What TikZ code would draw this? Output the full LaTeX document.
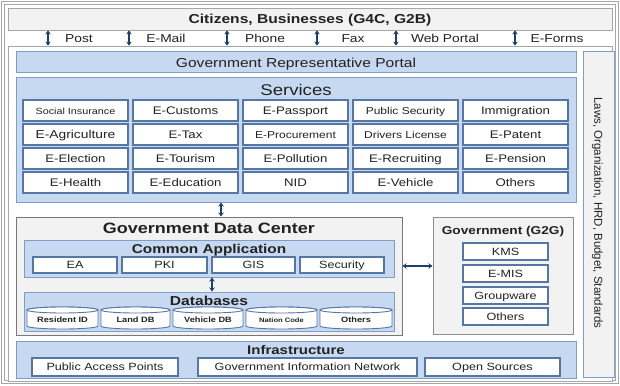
\documentclass[tikz,border=0pt]{standalone}
\usepackage{fontspec}
\setmainfont{Liberation Sans}[FakeStretch=1.2]
\newfontfamily\vfont{Liberation Sans}
\usetikzlibrary{arrows.meta}
\definecolor{bfill}{HTML}{C6D9F0}
\definecolor{bdraw}{HTML}{7F9DC6}
\definecolor{cdraw}{HTML}{5676A3}
\definecolor{gfill}{HTML}{F2F2F2}
\definecolor{gdraw}{HTML}{8C8C8C}
\definecolor{arrc}{HTML}{1F3F6B}
\definecolor{tcol}{HTML}{222222}
\definecolor{framec}{HTML}{A6A6A6}
\newcommand\myfs[1]{\fontsize{#1pt}{#1pt}\selectfont}
\newcommand\rbox[7]{\pgfmathsetmacro\rbW{#5-#3}\pgfmathsetmacro\rbH{#6-#4}%
 \node[#1,minimum width=\rbW pt,minimum height=\rbH pt] (#2) at ({(#3+#5)/2},{(#4+#6)/2}) {#7};}
\newcommand\dbcyl[6]{\pgfmathsetmacro\cyX{(#2+#3)/2}\pgfmathsetmacro\cyR{(#3-#2)/2}%
 \filldraw[cyl] (#2,#4+3) -- (#2,#5-3) arc[start angle=180,end angle=0,x radius=\cyR,y radius=3] -- (#3,#4+3) arc[start angle=0,end angle=-180,x radius=\cyR,y radius=3] -- cycle;
 \draw[cyl] (\cyX,#4+3) ellipse[x radius=\cyR,y radius=3];
 \node[lab,text height=5.4pt] (#1) at (\cyX,{(#4+#5)/2+2}) {#6};}
\begin{document}
\begin{tikzpicture}[x=1pt,y=-1pt,
 every node/.style={text=tcol},
 bluebox/.style={draw=bdraw,fill=bfill,line width=1pt,inner sep=0pt},
 graybox/.style={draw=gdraw,fill=gfill,line width=1pt,inner sep=0pt},
 cell/.style={draw=cdraw,fill=white,line width=1.1pt,inner sep=0pt,font=\myfs{11},text height=7.6pt,text depth=0pt},
 lab/.style={inner sep=0pt,text depth=0pt},
 arr/.style={draw=arrc,line width=1.5pt,{Stealth[length=4pt,width=5.5pt]}-{Stealth[length=4pt,width=5.5pt]}},
 cyl/.style={draw=cdraw,fill=white,line width=0.9pt}]
\useasboundingbox (0,0) rectangle (620,385);
\draw[framec,line width=0.9pt,double=white,double distance=1.6pt] (3,3) rectangle (617,382);
\rbox{draw=framec,fill=white,line width=0.8pt,inner sep=0pt}{main}{8}{46}{612}{381}{}
\rbox{draw=framec,fill=gfill,line width=0.8pt,inner sep=0pt,font=\bfseries\myfs{13},text height=9.3pt,text depth=0pt}{top}{8}{8}{612}{30}{Citizens, Businesses (G4C, G2B)}
% menu row
\foreach \n/\x in {a/48,b/129,c/227,d/317,e/396,f/515}{
 \coordinate (m\n) at (\x,38);
 \draw[arr] (top.south -| m\n) -- (main.north -| m\n);
}
\tikzset{menu/.style={lab,font=\myfs{11.5},text height=8.2pt}}
\node[menu] (tpost) at (79,38.5) {Post};
\node[menu] (tmail) at (166,38.5) {E-Mail};
\node[menu] (tphone) at (265,38.5) {Phone};
\node[menu] (tfax) at (353,38.5) {Fax};
\node[menu] (tweb) at (445,38.5) {Web Portal};
\node[menu] (tforms) at (557,38.5) {E-Forms};
% portal
\rbox{bluebox,font=\myfs{13},text height=9.3pt,text depth=0pt}{portal}{16}{52}{576}{73}{Government Representative Portal}
% laws
\rbox{draw=bdraw,fill=gfill,line width=1pt,inner sep=0pt}{laws}{583}{52}{614}{377}{}
\node[lab,rotate=-90,font=\vfont\myfs{11.5},text height=8.2pt] (lawtxt) at (598.5,213) {Laws, Organization, HRD, Budget, Standards};
% services
\rbox{bluebox}{svc}{16}{78}{576}{202}{}
\node[lab,font=\myfs{15.5},text height=11.1pt] (svct) at (296,89.5) {Services};
\rbox{cell,font=\myfs{9}}{s11}{23}{100}{128}{121}{Social Insurance}
\rbox{cell}{s12}{133}{100}{238}{121}{E-Customs}
\rbox{cell}{s13}{243}{100}{348}{121}{E-Passport}
\rbox{cell,font=\myfs{10}}{s14}{353}{100}{458}{121}{Public Security}
\rbox{cell}{s15}{463}{100}{568}{121}{Immigration}
\rbox{cell,font=\myfs{11.5}}{s21}{23}{124}{128}{145}{E-Agriculture}
\rbox{cell}{s22}{133}{124}{238}{145}{E-Tax}
\rbox{cell,font=\myfs{10}}{s23}{243}{124}{348}{145}{E-Procurement}
\rbox{cell,font=\myfs{10}}{s24}{353}{124}{458}{145}{Drivers License}
\rbox{cell}{s25}{463}{124}{568}{145}{E-Patent}
\rbox{cell}{s31}{23}{148}{128}{169}{E-Election}
\rbox{cell}{s32}{133}{148}{238}{169}{E-Tourism}
\rbox{cell}{s33}{243}{148}{348}{169}{E-Pollution}
\rbox{cell}{s34}{353}{148}{458}{169}{E-Recruiting}
\rbox{cell}{s35}{463}{148}{568}{169}{E-Pension}
\rbox{cell}{s41}{23}{172}{128}{193}{E-Health}
\rbox{cell}{s42}{133}{172}{238}{193}{E-Education}
\rbox{cell}{s43}{243}{172}{348}{193}{NID}
\rbox{cell}{s44}{353}{172}{458}{193}{E-Vehicle}
\rbox{cell}{s45}{463}{172}{568}{193}{Others}
% data center
\rbox{graybox,draw=gdraw!85!black}{dc}{16}{217}{402}{335}{}
\node[lab,font=\bfseries\myfs{15},text height=10.7pt] (dct) at (209,228.5) {Government Data Center};
\rbox{bluebox}{ca}{24}{240}{394}{277}{}
\node[lab,font=\bfseries\myfs{12.8},text height=9.2pt] (cat) at (209,248.5) {Common Application};
\rbox{cell,font=\myfs{10.5}}{ea}{33}{257}{117}{273}{EA}
\rbox{cell,font=\myfs{10.5}}{pki}{122}{257}{207}{273}{PKI}
\rbox{cell,font=\myfs{10.5}}{gis}{212}{257}{295}{273}{GIS}
\rbox{cell,font=\myfs{10.5}}{sec}{300}{257}{384}{273}{Security}
\rbox{bluebox}{db}{24}{292}{394}{331}{}
\node[lab,font=\bfseries\myfs{13},text height=9.3pt] (dbt) at (209,301) {Databases};
\dbcyl{c1}{27}{98}{307}{329}{\bfseries\myfs{7.7}Resident ID}
\dbcyl{c2}{101}{170}{307}{329}{\bfseries\myfs{7.7}Land DB}
\dbcyl{c3}{173}{243}{307}{329}{\bfseries\myfs{7.7}Vehicle DB}
\dbcyl{c4}{246}{317}{307}{329}{\bfseries\myfs{6.3}Nation Code}
\dbcyl{c5}{320}{392}{307}{329}{\bfseries\myfs{7.7}Others}
% G2G
\rbox{graybox}{g2g}{433}{217}{573}{334}{}
\node[lab,font=\bfseries\myfs{11.4},text height=8.2pt] (g2gt) at (503,230) {Government (G2G)};
\rbox{cell,font=\myfs{10.5}}{kms}{463}{243}{548}{260}{KMS}
\rbox{cell,font=\myfs{10.5}}{emis}{463}{265}{548}{282}{E-MIS}
\rbox{cell,font=\myfs{10.5}}{grp}{463}{287}{548}{304}{Groupware}
\rbox{cell,font=\myfs{10.5}}{goth}{463}{308}{548}{325}{Others}
% infrastructure
\rbox{bluebox}{inf}{16}{341}{576}{378}{}
\node[lab,font=\bfseries\myfs{12.5},text height=9pt] (inft) at (296,349.5) {Infrastructure};
\rbox{cell,font=\myfs{10.5}}{pap}{32}{358}{178}{376}{Public Access Points}
\rbox{cell,font=\myfs{10.5}}{gin}{198}{358}{417}{376}{Government Information Network}
\rbox{cell,font=\myfs{10.5}}{osrc}{425}{358}{560}{376}{Open Sources}
% connectors
\coordinate (k1) at (221,0);
\coordinate (k2) at (212,0);
\coordinate (k3) at (0,266);
\draw[arr] (svc.south -| k1) -- (dc.north -| k1);
\draw[arr] (ca.south -| k2) -- (db.north -| k2);
\draw[arr] (dc.east |- k3) -- (g2g.west |- k3);
\end{tikzpicture}
\end{document}
